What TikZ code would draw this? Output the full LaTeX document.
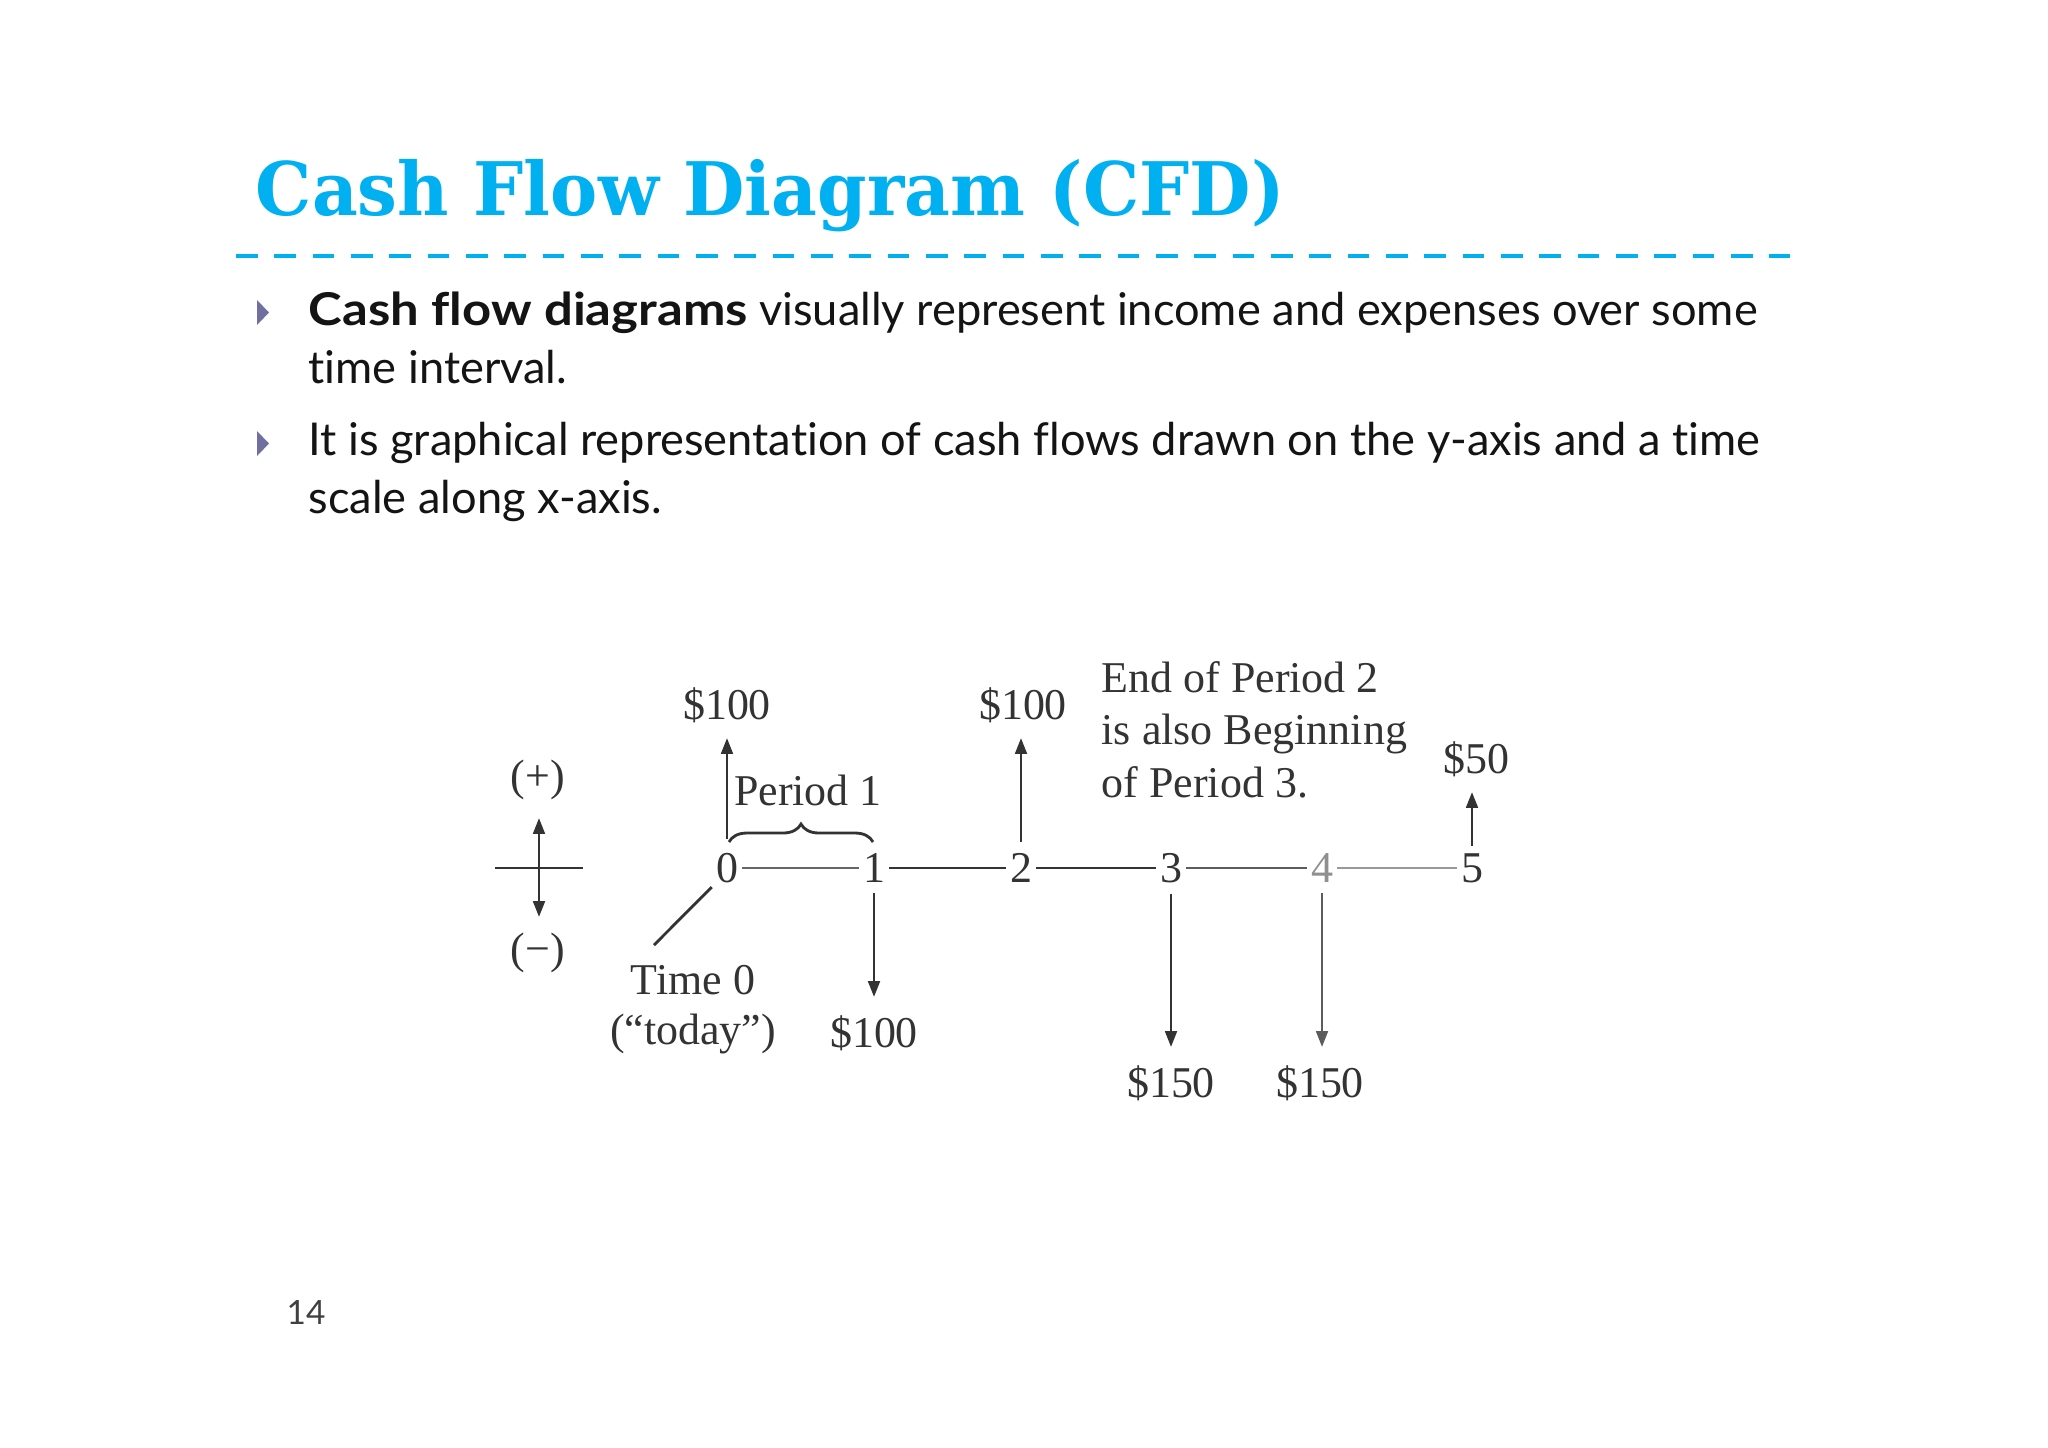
\documentclass[tikz,border=0pt]{standalone}
\usepackage{fontspec}
\setmainfont{Liberation Serif}
\newfontfamily\titlefont{DejaVu Serif}
\newfontfamily\bodyfont[RawFeature=-liga]{Lato}
\usetikzlibrary{decorations.pathreplacing,arrows.meta}
\definecolor{titlecyan}{HTML}{00B0F0}
\definecolor{bulletgray}{HTML}{7070A0}
\definecolor{ink}{HTML}{333333}
\definecolor{bodyink}{HTML}{141414}
\begin{document}
\begin{tikzpicture}[x=0.01cm,y=-0.01cm,
  diag/.style={font=\fontsize{12.5}{15}\selectfont, text=ink, inner sep=0pt},
  flow/.style={draw=ink, line width=0.8pt, -{Triangle[length=4.5pt,width=3.3pt]}},
  axisseg/.style={draw=ink, line width=0.8pt, shorten <=1pt, shorten >=1pt},
  bodytext/.style={font=\bodyfont\fontsize{12.85}{16}\selectfont, text=bodyink, anchor=base west, inner sep=0pt},
  thinline/.style={draw=ink, line width=0.8pt}
]
\useasboundingbox[fill=white] (0,0) rectangle (2048,1447);

% title
\node[anchor=base west, inner sep=0pt, text=titlecyan, font=\titlefont\bfseries\fontsize{21}{25}\selectfont] (title) at (255,215) {\scalebox{0.958}[1]{Cash Flow Diagram (CFD)}};
\coordinate (rL) at (236,256);
\coordinate (rR) at (1790,256);
\draw[titlecyan, line width=1.3pt, dash pattern=on 6.2pt off 4.7pt] (rL) -- (rR);

% bullets
\fill[bulletgray] (257,300) -- (269,312.5) -- (257,325) -- cycle;
\fill[bulletgray] (257,431) -- (269,443.5) -- (257,456) -- cycle;
\node[bodytext] (b1a) at (308,325) {\scalebox{1.124}[1]{\textbf{Cash flow diagrams}} visually represent income and expenses over some};
\node[bodytext] (b1b) at (308,383) {time interval.};
\node[bodytext] (b2a) at (308,455) {It is graphical representation of cash flows drawn on the y-axis and a time};
\node[bodytext] (b2b) at (308,513) {scale along x-axis.};

% page number
\node[font=\bodyfont\fontsize{9.5}{12}\selectfont, text=black!75, anchor=base west, inner sep=0pt] (pg) at (286,1324) {14};

% time axis numbers
\node[diag] (n0) at (727,868) {0};
\node[diag] (n1) at (874,868) {1};
\node[diag] (n2) at (1021,868) {2};
\node[diag] (n3) at (1171,868) {3};
\node[diag, text=ink!55] (n4) at (1322,868) {4};
\node[diag] (n5) at (1472,868) {5};
\draw[axisseg, draw=ink!75] (n0) -- (n1);
\draw[axisseg] (n1) -- (n2);
\draw[axisseg] (n2) -- (n3);
\draw[axisseg, draw=ink!80] (n3) -- (n4);
\draw[axisseg, draw=ink!50] (n4) -- (n5);

% cash flow arrows
\coordinate (t0) at (727,738);
\coordinate (t1) at (874,997);
\coordinate (t2) at (1021,738);
\coordinate (t3) at (1171,1047);
\coordinate (t4) at (1322,1047);
\coordinate (t5) at (1472,792);
\draw[flow, shorten <=0.13cm] (n0.north) -- (t0);
\draw[flow, shorten <=0.10cm] (n1.south) -- (t1);
\draw[flow, shorten <=0.11cm] (n2.north) -- (t2);
\draw[flow, shorten <=0.10cm] (n3.south) -- (t3);
\draw[flow, shorten <=0.10cm, draw=ink!80] (n4.south) -- (t4);
\draw[flow, shorten <=0.07cm] (n5.north) -- (t5);

% amounts
\node[diag] (v0) at (727,705) {\$100};
\node[diag] (v1) at (874,1033) {\$100};
\node[diag] (v2) at (1023,705) {\$100};
\node[diag] (v3) at (1171,1083) {\$150};
\node[diag] (v4) at (1320,1083) {\$150};
\node[diag] (v5) at (1476,759) {\$50};

% sign convention
\node[diag] (plus) at (538,780) {(+)};
\node[diag] (minus) at (538,953) {(−)};
\coordinate (sL) at (495,868);
\coordinate (sR) at (583,868);
\coordinate (sT) at (539,818);
\coordinate (sB) at (539,917);
\draw[thinline] (sL) -- (sR);
\draw[thinline, {Triangle[length=4.5pt,width=3.3pt]}-{Triangle[length=4.5pt,width=3.3pt]}] (sT) -- (sB);

% time 0
\node[diag] (time0) at (693,980) {Time 0};
\node[diag] (today) at (693,1034) {(“today”)};
\coordinate (p0) at (654,945);
\draw[thinline, shorten >=0.05cm] (p0) -- (n0.south west);

% period 1 brace
\coordinate (brL) at (729,842);
\coordinate (brR) at (873,842);
\draw[thinline, decorate, decoration={brace, amplitude=0.18cm}] (brL) -- (brR);
\node[diag] (per1) at (808,790) {Period 1};

% note
\node[diag, anchor=base west] (e1) at (1101,692) {End of Period 2};
\node[diag, anchor=base west] (e2) at (1101,744) {is also Beginning};
\node[diag, anchor=base west] (e3) at (1101,797) {of Period 3.};
\end{tikzpicture}
\end{document}
